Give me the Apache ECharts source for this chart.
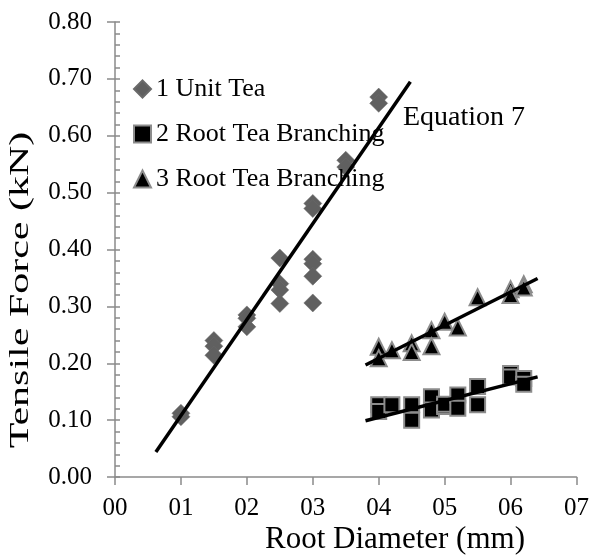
<!DOCTYPE html>
<html>
<head>
<meta charset="utf-8">
<script src="https://cdn.jsdelivr.net/npm/echarts@6/dist/echarts.min.js"></script>
<style>
html,body{margin:0;padding:0;background:#fff;}
#chart{width:592px;height:558px;}
</style>
</head>
<body>
<div id="chart"></div>
<script>
// ---- data ----
var xTicks = [0, 1, 2, 3, 4, 5, 6, 7];
var yTicks = [0.00, 0.10, 0.20, 0.30, 0.40, 0.50, 0.60, 0.70, 0.80];

var unitX = [1, 1, 1.5, 1.5, 1.5, 2, 2, 2, 2.5, 2.5, 2.5, 2.5, 3, 3, 3, 3, 3, 3, 3.5, 3.5, 4, 4];
var unitY = [0.106, 0.112, 0.240, 0.230, 0.214, 0.285, 0.279, 0.264, 0.385, 0.340, 0.329, 0.305, 0.481, 0.472, 0.383, 0.375, 0.353, 0.306, 0.557, 0.545, 0.668, 0.657];

var sq2X = [4.0, 4.0, 4.2, 4.5, 4.5, 4.8, 4.8, 5.0, 5.0, 5.2, 5.2, 5.5, 5.5, 6.0, 6.0, 6.2, 6.2];
var sq2Y = [0.127, 0.115, 0.127, 0.127, 0.100, 0.141, 0.118, 0.124, 0.128, 0.144, 0.121, 0.159, 0.127, 0.182, 0.176, 0.173, 0.163];

var tri3X = [4.0, 4.0, 4.2, 4.5, 4.5, 4.8, 4.8, 5.0, 5.2, 5.5, 6.0, 6.0, 6.2, 6.2];
var tri3Y = [0.229, 0.209, 0.223, 0.235, 0.220, 0.258, 0.230, 0.273, 0.263, 0.316, 0.330, 0.320, 0.339, 0.333];

var trend1X = [0.62, 4.48];
var trend1Y = [0.044, 0.695];
var trend2X = [3.80, 6.41];
var trend2Y = [0.099, 0.176];
var trend3X = [3.80, 6.41];
var trend3Y = [0.197, 0.349];

var seriesNames = ['1 Unit Tea', '2 Root Tea Branching', '3 Root Tea Branching'];
var xTitle = 'Root Diameter (mm)';
var yTitle = 'Tensile Force (kN)';
var noteText = 'Equation 7';

function pairs(xs, ys) { return xs.map(function (x, i) { return [x, ys[i]]; }); }

var FONT = 'Liberation Serif';
var AXIS_COLOR = '#8a8a8a';

var chart = echarts.init(document.getElementById('chart'), null, { renderer: 'canvas' });
var option = {
  animation: false,
  backgroundColor: '#ffffff',
  grid: { left: 115, top: 22, right: 13, bottom: 81, containLabel: false },
  xAxis: {
    type: 'value', min: xTicks[0], max: xTicks[xTicks.length - 1], interval: 1,
    axisLine: { show: true, lineStyle: { color: AXIS_COLOR, width: 1.5 } },
    axisTick: { show: true, length: 8, lineStyle: { color: AXIS_COLOR, width: 1.5 } },
    splitLine: { show: false },
    axisLabel: {
      margin: 19, color: '#000', fontFamily: FONT, fontSize: 25,
      formatter: function (v) { return '0' + v; }
    }
  },
  yAxis: [{
    type: 'value', min: yTicks[0], max: yTicks[yTicks.length - 1], interval: 0.1,
    axisLine: { show: true, lineStyle: { color: AXIS_COLOR, width: 1.5 } },
    axisTick: { show: true, length: 8, lineStyle: { color: AXIS_COLOR, width: 1.5 } },
    splitLine: { show: false },
    axisLabel: {
      margin: 23, color: '#000', fontFamily: FONT, fontSize: 25,
      formatter: function (v) { return v.toFixed(2); }
    }
  }, {
    type: 'value', min: 0, max: 0.8, interval: 0.02, position: 'left',
    axisLine: { show: false },
    axisTick: { show: true, inside: true, length: 5, lineStyle: { color: AXIS_COLOR, width: 1.5 } },
    axisLabel: { show: false },
    splitLine: { show: false }
  }],
  legend: {
    orient: 'vertical', left: 133, top: 76, padding: 0, itemGap: 19, itemWidth: 17, itemHeight: 17,
    textStyle: { fontFamily: FONT, fontSize: 26, color: '#000' },
    data: seriesNames
  },
  series: [{
    name: seriesNames[0], type: 'scatter', symbol: 'diamond', symbolSize: 18,
    itemStyle: { color: '#606060', borderColor: '#6a6a6a', borderWidth: 0.5, opacity: 1 },
    data: pairs(unitX, unitY), z: 3
  }, {
    name: seriesNames[1], type: 'scatter', symbol: 'rect', symbolSize: 15,
    itemStyle: { color: '#000000', borderColor: '#8c8c8c', borderWidth: 2, opacity: 1 },
    data: pairs(sq2X, sq2Y), z: 3
  }, {
    name: seriesNames[2], type: 'scatter', symbol: 'triangle', symbolSize: 16,
    itemStyle: { color: '#000000', borderColor: '#8c8c8c', borderWidth: 2, opacity: 1 },
    data: pairs(tri3X, tri3Y), z: 3
  }, {
    type: 'line', data: pairs(trend1X, trend1Y), showSymbol: false, silent: true,
    lineStyle: { color: '#000', width: 3.5 }, z: 4
  }, {
    type: 'line', data: pairs(trend2X, trend2Y), showSymbol: false, silent: true,
    lineStyle: { color: '#000', width: 3.5 }, z: 4
  }, {
    type: 'line', data: pairs(trend3X, trend3Y), showSymbol: false, silent: true,
    lineStyle: { color: '#000', width: 3.5 }, z: 4
  }],
  graphic: [{
    type: 'text', x: 395, y: 540,
    style: { text: xTitle, fontSize: 31, fontFamily: FONT, fill: '#000', textAlign: 'center', textVerticalAlign: 'middle' }
  }, {
    type: 'text', x: 21, y: 290, rotation: Math.PI / 2, scaleX: 1.5,
    style: { text: yTitle, fontSize: 28, fontFamily: FONT, fill: '#000', textAlign: 'center', textVerticalAlign: 'middle' }
  }, {
    type: 'text', x: 403, y: 118,
    style: { text: noteText, fontSize: 28, fontFamily: FONT, fill: '#000', textAlign: 'left', textVerticalAlign: 'middle' }
  }]
};
chart.setOption(option);
</script>
</body>
</html>
